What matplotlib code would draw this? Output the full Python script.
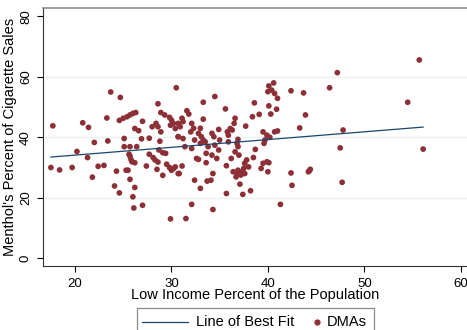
import numpy as np
import matplotlib
matplotlib.use("Agg")
import matplotlib.pyplot as plt
from matplotlib.lines import Line2D
from matplotlib.patches import Rectangle

# low income percent (x) and menthol share (y) for each DMA
low_income = [
    17.5, 18.4, 19.7, 20.2, 17.7, 20.8, 21.4, 21.3, 21.8, 22.0,
    22.4, 23.0, 23.3, 23.7, 24.7, 23.4, 24.3, 24.1, 24.6,
    24.6, 25.0, 25.4, 25.7, 26.0, 26.3, 27.0, 26.2, 26.6, 25.1,
    25.1, 25.7, 26.4, 25.7, 25.8, 25.9, 26.2, 25.6, 25.3, 25.5,
    25.7, 26.2, 26.0, 26.1, 27.0, 27.4, 26.9, 27.7,
    27.7, 28.1, 28.3, 28.6, 28.5, 29.1, 28.7, 29.1, 29.4,
    29.5, 29.8, 30.0, 30.2, 30.4, 30.7, 29.9, 28.6, 30.5,
    28.9, 29.3, 29.8, 30.0, 30.2, 29.9, 30.4, 28.0, 28.4, 28.6,
    28.9, 28.8, 30.7, 33.3, 34.5, 35.6, 38.6,
    40.1, 40.6, 40.4, 40.7, 41.0, 40.0, 42.4, 43.7, 40.1, 40.9,
    40.3, 38.4, 39.1, 43.9, 43.3, 37.7, 36.6, 36.5,
    36.1, 35.8, 35.9, 36.3, 34.9, 34.2, 34.4, 33.3,
    31.6, 31.8, 31.1, 30.7, 31.2, 30.9, 32.1, 32.3, 32.0, 33.0,
    32.8, 33.1, 32.4, 33.3, 31.2, 30.7,
    39.5, 39.9, 40.2, 39.7, 40.7, 41.0, 36.9,
    31.4, 32.1, 33.0, 33.5, 33.8, 34.5, 34.9, 34.2, 34.7, 33.6,
    32.6, 32.8, 33.6, 31.1, 30.8, 34.3, 32.4, 33.7, 34.1, 33.0,
    35.7, 32.1, 34.3, 31.5, 35.7, 36.2, 36.6, 37.0, 36.9, 36.8,
    38.5, 38.7, 36.4, 36.8, 36.9, 37.3, 37.5, 37.6, 37.8, 38.0,
    37.2, 37.6, 36.7, 37.1, 37.4, 38.2, 39.3, 39.5, 39.9, 40.1,
    40.0, 39.6, 42.4, 42.5, 44.2, 41.3, 47.2, 55.7, 46.4, 54.5,
    47.8, 47.5, 56.1, 44.3, 44.4, 47.7, 35.9, 35.0,
]
menthol = [
    30.0, 29.2, 30.0, 35.3, 43.8, 44.8, 43.3, 33.3, 26.8, 38.3,
    30.4, 30.7, 46.4, 55.0, 53.2, 38.8, 28.8, 23.9, 21.6,
    45.6, 46.3, 46.8, 47.4, 47.9, 48.2, 45.3, 42.9, 42.2, 39.6,
    36.9, 36.9, 36.9, 33.8, 32.7, 31.9, 31.6, 34.4, 29.1, 29.1,
    26.1, 23.4, 20.3, 16.6, 17.5, 30.5, 39.5, 39.7,
    34.4, 33.3, 32.5, 31.8, 29.4, 27.4, 35.8, 34.9, 34.7,
    31.1, 30.0, 29.1, 29.6, 30.2, 28.0, 13.0, 51.1, 56.4,
    48.2, 47.4, 46.6, 45.7, 44.6, 44.0, 42.9, 43.5, 44.6, 43.5,
    41.8, 38.7, 40.2, 51.6, 53.5, 49.4, 51.4,
    57.0, 58.0, 55.6, 54.5, 52.9, 55.1, 55.4, 54.7, 50.4, 49.3,
    47.7, 46.8, 47.6, 47.4, 43.1, 43.7, 46.3, 44.6,
    42.9, 41.8, 40.7, 42.4, 42.6, 41.3, 40.2, 46.0,
    48.8, 47.7, 46.3, 44.6, 45.2, 43.5, 44.6, 43.0, 41.8, 43.0,
    41.3, 40.2, 39.1, 39.1, 39.6, 40.2,
    41.8, 40.7, 40.0, 39.1, 41.8, 42.1, 39.3,
    36.9, 36.3, 38.0, 38.5, 36.9, 37.4, 35.8, 34.1, 33.0, 34.7,
    33.0, 32.7, 31.6, 30.5, 28.0, 28.0, 25.8, 25.5, 25.8, 23.1,
    21.4, 17.8, 16.1, 13.1, 30.6, 33.0, 35.2, 34.1, 36.9, 38.0,
    33.3, 36.0, 28.6, 28.0, 29.1, 28.6, 29.7, 31.4, 32.5, 30.2,
    27.5, 28.0, 26.9, 24.5, 21.1, 22.3, 29.7, 31.4, 31.9, 31.6,
    28.6, 38.0, 28.2, 24.1, 28.6, 17.8, 61.4, 65.6, 56.4, 51.6,
    42.4, 36.5, 36.1, 28.9, 29.4, 25.1, 38.5, 39.1,
]

x_ticks = [20, 30, 40, 50, 60]
y_ticks = [0, 20, 40, 60, 80]
legend_labels = ["Line of Best Fit", "DMAs"]

dot_color = "#8c2f36"
line_color = "#1a476f"

plt.rcParams["font.family"] = ["Liberation Sans", "DejaVu Sans"]

x = np.array(low_income)
y = np.array(menthol)
slope, intercept = np.polyfit(x, y, 1)
xs = np.array([x.min(), x.max()])

W, H = 467, 330
fig = plt.figure(figsize=(W / 100, H / 100), dpi=100)
ax = fig.add_axes([43 / W, 64 / H, 424 / W, 258 / H])

for g in [20, 40, 60]:
    ax.axhline(g, color="#eaf2f3", lw=1.0, zorder=0)

ax.plot(xs, intercept + slope * xs, color=line_color, lw=0.9, zorder=3)
ax.scatter(x, y, s=17, color=dot_color, edgecolors="none", zorder=2)

ax.set_xlim(16.68, 60.65)
ax.set_ylim(-2.6, 82.8)
ax.set_xticks(x_ticks)
ax.set_yticks(y_ticks)
ax.tick_params(axis="both", direction="out", length=4, width=0.8,
               labelsize=9.5, colors="black")
ax.tick_params(axis="x", pad=4.5)
ax.tick_params(axis="y", pad=4, labelrotation=90)
for lab in ax.get_yticklabels():
    lab.set_va("center")

ax.spines["right"].set_visible(False)
ax.spines["top"].set_color("#8c8c8c")
ax.spines["top"].set_linewidth(1.2)
ax.spines["left"].set_color("#333333")
ax.spines["bottom"].set_color("#333333")

ax.set_xlabel("Low Income Percent of the Population", fontsize=10.5, labelpad=-1)
ax.set_ylabel("Menthol's Percent of Cigarette Sales", fontsize=10.5, labelpad=2)

# legend box below the plot, its lower edge runs off the image like the original
def fx(px):
    return px / W

def fy(py):
    return 1 - py / H

fig.patches.append(Rectangle((fx(137), fy(345)), fx(374) - fx(137), fy(308) - fy(345),
                             transform=fig.transFigure, fill=False,
                             edgecolor="#8c8c8c", lw=0.9))
fig.lines.append(Line2D([fx(142), fx(188)], [fy(321.5), fy(321.5)],
                        transform=fig.transFigure, color=line_color, lw=0.9))
fig.text(fx(196), fy(321.5), legend_labels[0], fontsize=10.5, va="center", ha="left")
fig.lines.append(Line2D([fx(317)], [fy(321.5)], transform=fig.transFigure,
                        marker="o", ls="none", color=dot_color, markersize=4.5,
                        markeredgewidth=0))
fig.text(fx(327), fy(321.5), legend_labels[1], fontsize=10.5, va="center", ha="left")

fig.savefig("out.png", dpi=100)
